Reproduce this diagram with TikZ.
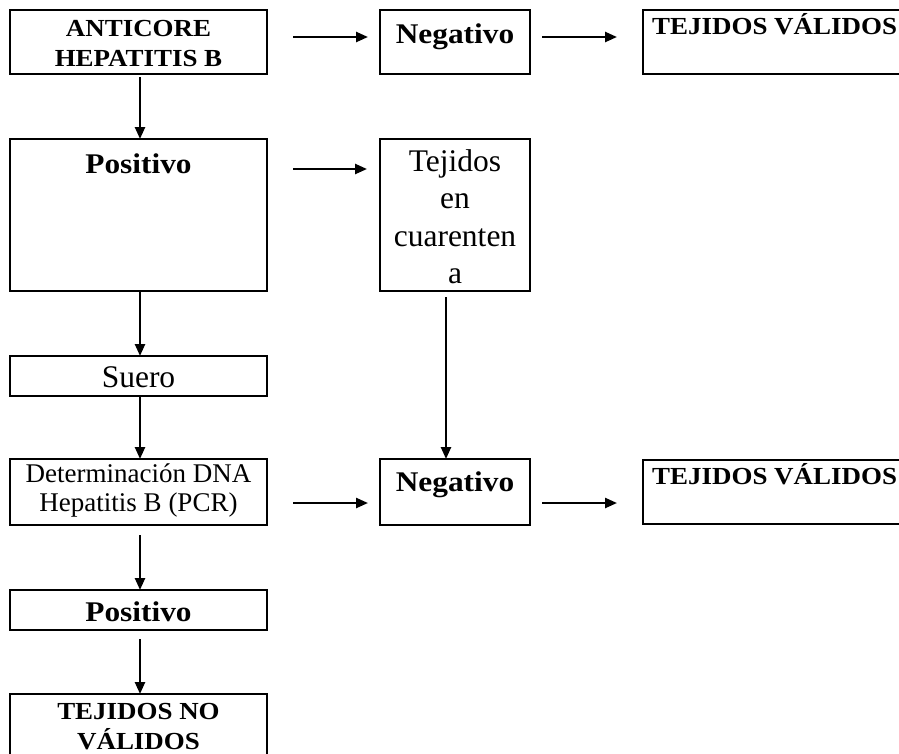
\documentclass[tikz,border=0pt]{standalone}
\usepackage{fontspec}
\setmainfont{Liberation Serif}
\newfontfamily\widebf{Liberation Serif}[FakeStretch=1.1]
\usetikzlibrary{arrows.meta}

\begin{document}
\begin{tikzpicture}[x=1pt,y=-1pt,
  box/.style={draw, line width=2.4pt, inner sep=0pt, outer sep=0pt, anchor=north west},
  link/.style={line width=2.4pt, -{Triangle[length=12pt,width=10pt]}},
  bsmall/.style={font=\widebf\bfseries\fontsize{24.5}{30}\selectfont, inner sep=0pt, align=center},
  blarge/.style={font=\widebf\bfseries\fontsize{28.5}{36}\selectfont, inner sep=0pt, align=center},
  rsmall/.style={font=\fontsize{27}{29}\selectfont, inner sep=0pt, align=center},
  rlarge/.style={font=\fontsize{31.5}{37.5}\selectfont, inner sep=0pt, align=center},
]
\useasboundingbox (0,0) rectangle (899,753);
\fill[white] (0,0) rectangle (899,753);
\clip (0,0) rectangle (899,753);

% boxes
\node[box, minimum width=257pt, minimum height=64pt]  (anticore) at (10,10)  {};
\node[box, minimum width=150pt, minimum height=64pt]  (neg1)     at (380,10) {};
\node[box, minimum width=300pt, minimum height=64pt]  (val1)     at (643,10) {};
\node[box, minimum width=257pt, minimum height=152pt] (pos1)     at (10,139) {};
\node[box, minimum width=150pt, minimum height=152pt] (cuar)     at (380,139) {};
\node[box, minimum width=257pt, minimum height=40pt]  (suero)    at (10,356) {};
\node[box, minimum width=257pt, minimum height=66pt]  (det)      at (10,459) {};
\node[box, minimum width=150pt, minimum height=66pt]  (neg2)     at (380,459) {};
\node[box, minimum width=300pt, minimum height=64pt]  (val2)     at (643,460) {};
\node[box, minimum width=257pt, minimum height=40pt]  (pos2)     at (10,590) {};
\node[box, minimum width=257pt, minimum height=100pt] (novalid)  at (10,694) {};

% texts
\node[bsmall, anchor=north]     (anticoreT) at (138.5,20) {ANTICORE\\HEPATITIS B};
\node[blarge, anchor=base]      (neg1T)     at (455,43)   {Negativo};
\node[bsmall, anchor=base west] (val1T)     at (652,34)   {TEJIDOS VÁLIDOS};
\node[blarge, anchor=base]      (pos1T)     at (138.5,173) {Positivo};
\node[rlarge, anchor=north]     (cuarT)     at (455,149)  {Tejidos\\en\\cuarenten\\a};
\node[rlarge, anchor=base]      (sueroT)    at (138.5,387) {Suero};
\node[rsmall, anchor=north]     (detT)      at (138.5,464) {Determinación DNA\\Hepatitis B (PCR)};
\node[blarge, anchor=base]      (neg2T)     at (455,491)  {Negativo};
\node[bsmall, anchor=base west] (val2T)     at (652,484)  {TEJIDOS VÁLIDOS};
\node[blarge, anchor=base]      (pos2T)     at (138.5,621) {Positivo};
\node[bsmall, anchor=north]     (novalidT)  at (138.5,703) {TEJIDOS NO\\VÁLIDOS};

% horizontal connectors
\draw[link] ([xshift=26pt,yshift=5pt]anticore.east) -- ([xshift=-12pt,yshift=5pt]neg1.west);
\draw[link] ([xshift=12pt,yshift=5pt]neg1.east) -- ([xshift=-26pt,yshift=5pt]val1.west);
\draw[link] ([xshift=26pt,yshift=-30pt]pos1.north east) -- ([xshift=-13pt,yshift=-30pt]cuar.north west);
\draw[link] ([xshift=26pt,yshift=-11pt]det.east) -- ([xshift=-12pt,yshift=-11pt]neg2.west);
\draw[link] ([xshift=12pt,yshift=-11pt]neg2.east) -- ([xshift=-26pt,yshift=-11pt]val2.west);

% vertical connectors
\draw[link] ([xshift=1.5pt,yshift=-3pt]anticore.south) -- ([xshift=1.5pt]pos1.north);
\draw[link] ([xshift=1.5pt]pos1.south) -- ([xshift=1.5pt]suero.north);
\draw[link] ([xshift=1.5pt]suero.south) -- ([xshift=1.5pt]det.north);
\draw[link] ([xshift=1.5pt,yshift=-10pt]det.south) -- ([xshift=1.5pt]pos2.north);
\draw[link] ([xshift=1.5pt,yshift=-9pt]pos2.south) -- ([xshift=1.5pt]novalid.north);
\draw[link] ([xshift=-9pt,yshift=-6pt]cuar.south) -- ([xshift=-9pt]neg2.north);
\end{tikzpicture}
\end{document}
